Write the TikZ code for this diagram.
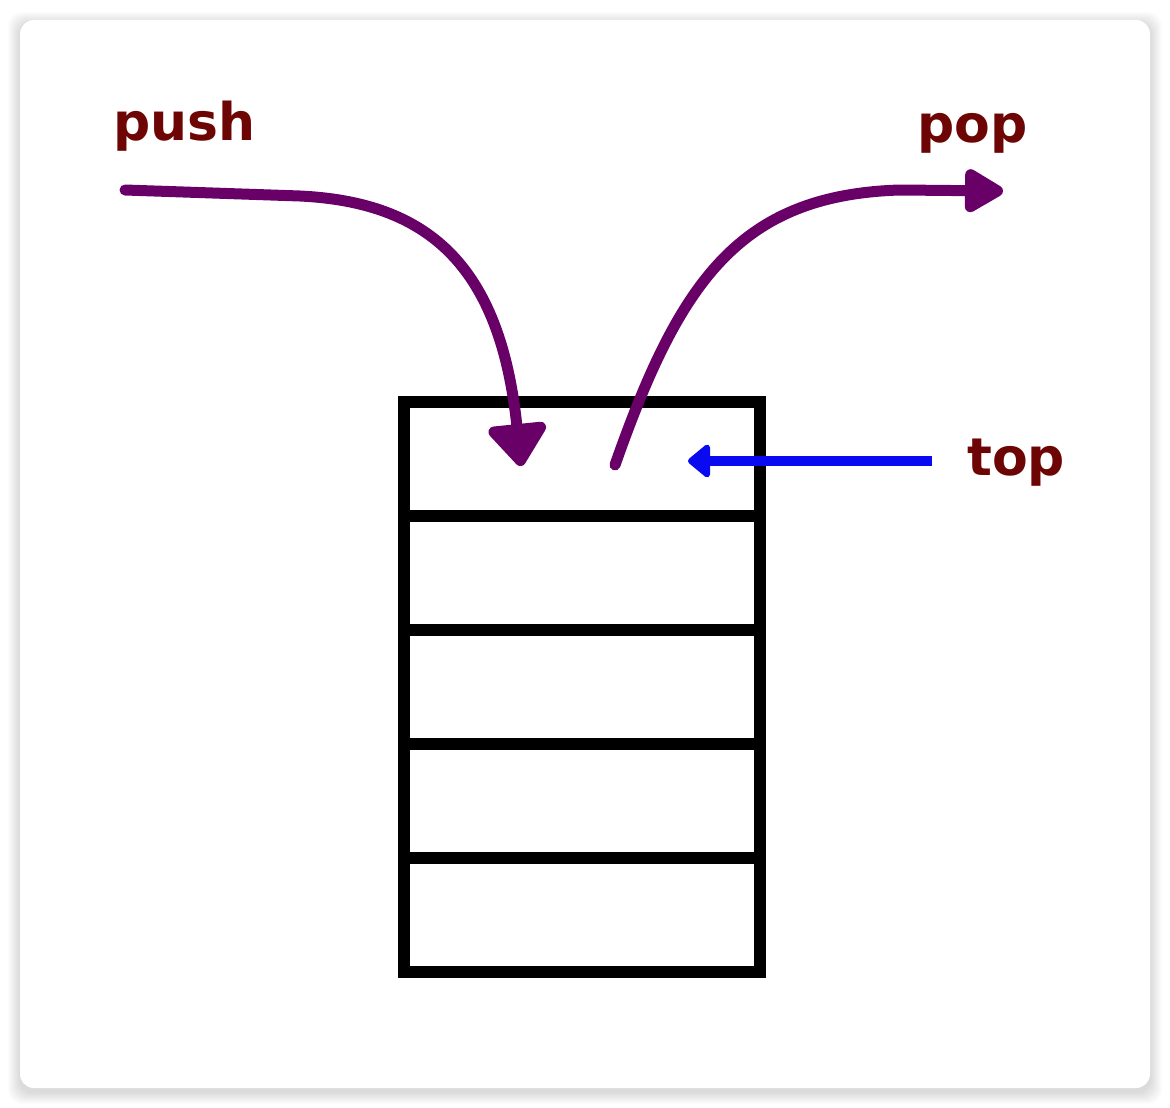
\documentclass[tikz,border=0pt]{standalone}
\usepackage{fontspec}
\setmainfont{DejaVu Sans}
\usetikzlibrary{arrows.meta}
\definecolor{labelred}{HTML}{6E0505}
\definecolor{arrowpurple}{HTML}{680068}
\definecolor{ptrblue}{HTML}{0A0AF0}
\tikzset{
  lbl/.style={font=\fontsize{52}{60}\selectfont\bfseries, text=labelred, inner sep=0pt, anchor=base west},
  cell/.style={draw=black, line width=12pt, minimum width=356pt, minimum height=114pt, inner sep=0pt},
  flow/.style={draw=arrowpurple, line width=11pt, line cap=round},
  ptr/.style={draw=ptrblue, line width=10pt,
    -{Triangle[length=24pt,width=38pt,round]}}
}
\begin{document}
\begin{tikzpicture}[x=1pt,y=-1pt]
  \useasboundingbox (0,0) rectangle (1170,1108);
  \fill[white] (0,0) rectangle (1170,1108);
  % soft card shadow
  \foreach \d in {1,...,12}
    \fill[black, opacity=0.013, rounded corners=14pt]
      (20-\d,20-\d+4) rectangle (1150+\d,1088+\d+4);
  \fill[white, rounded corners=14pt] (20,20) rectangle (1150,1088);

  % stack cells
  \foreach \i in {1,...,5}
    \node[cell] (cell\i) at (582,{402+57+114*(\i-1)}) {};

  % labels
  \node[lbl] (push) at (113,140) {push};
  \node[lbl] (pop) at (917,142) {pop};
  \node[lbl] (top) at (967,475) {top};

  % arrow end points
  \coordinate (pushstart) at (125,190);
  \coordinate (pushbend) at (300,196);
  \coordinate (pushend) at (521,466);
  \coordinate (popstart) at (615,465);
  \coordinate (popbend) at (900,190);
  \coordinate (popend) at (1003,191);
  \coordinate (topstart) at (932,461);
  \coordinate (topend) at (688,461);

  % push: into the top cell
  \draw[flow, -{Triangle[length=46pt,width=66pt,round]}] (pushstart) -- (pushbend)
    .. controls (425,202) and (500,262) .. (pushend);
  % pop: out of the top cell
  \draw[flow, -{Triangle[length=44pt,width=48pt,round]}] (popstart)
    .. controls (680,280) and (740,195) .. (popbend) -- (popend);
  % top pointer
  \draw[ptr] (topstart) -- (topend);
\end{tikzpicture}
\end{document}
